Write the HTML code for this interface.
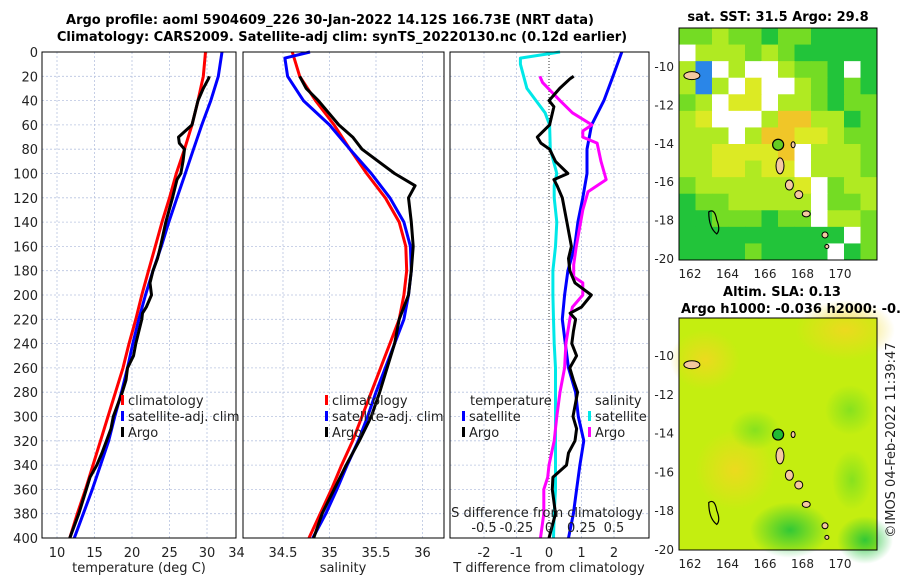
<!DOCTYPE html>
<html><head><meta charset="utf-8"><style>
body{margin:0;background:#fff;}
svg{font-family:"DejaVu Sans","Liberation Sans",sans-serif;}
</style></head><body>
<svg id="fig" width="900" height="580" xmlns="http://www.w3.org/2000/svg"></svg>
<script>
// ---------- data ----------
const depths = [0,20,40,60,80,100,120,140,160,180,200,220,240,260,280,300,320,340,360,380,400];
const climT = [29.8,29.5,28.8,28.0,27.0,25.9,25.0,24.0,23.1,22.2,21.3,20.5,19.6,18.8,17.8,16.8,15.8,14.8,13.8,12.7,11.7];
const satT  = [32.0,31.5,30.5,29.3,28.2,27.1,26.0,24.9,23.9,22.8,21.8,20.9,20.1,19.4,18.6,17.7,16.9,15.8,14.7,13.5,12.3];
const argoDepths = [20,22,30,40,45,60,70,75,80,90,100,105,110,120,140,160,170,180,190,200,210,215,220,230,240,250,260,270,280,300,310,320,330,340,350,360,380,400];
const argoT = [30.3,30.2,29.5,28.8,28.6,28.0,26.2,26.3,27.0,26.8,26.5,26.0,25.8,25.4,24.5,23.8,23.4,22.8,22.4,22.6,21.9,21.4,21.3,20.9,20.5,20.2,19.4,19.2,18.7,17.5,17.2,16.6,16.0,15.3,14.4,13.9,12.9,11.7];
const climS = [34.60,34.68,34.85,35.05,35.22,35.40,35.60,35.75,35.82,35.83,35.80,35.75,35.65,35.55,35.45,35.35,35.25,35.13,35.02,34.90,34.78];
const satDepths = [0,5,20,40,60,80,100,120,140,160,180,200,220,240,260,280,300,320,340,360,380,400];
const satS = [34.79,34.52,34.55,34.72,35.00,35.22,35.45,35.65,35.80,35.87,35.88,35.85,35.80,35.70,35.60,35.50,35.41,35.31,35.19,35.08,34.96,34.82];
const argoSDepths = [20,30,40,60,70,80,100,110,120,140,160,180,200,220,240,260,280,300,320,340,360,380,400];
const argoS = [34.68,34.75,34.88,35.10,35.25,35.35,35.70,35.92,35.85,35.88,35.90,35.88,35.85,35.75,35.70,35.62,35.54,35.45,35.32,35.18,35.05,34.92,34.83];
const satTdiff = [2.24,1.97,1.69,1.31,1.17,1.17,1.04,0.89,0.79,0.58,0.48,0.41,0.5,0.6,0.82,0.9,1.07,0.95,0.85,0.75,0.6];
const argoTdiff = [0.76,0.65,0.33,0.0,0.15,0.02,-0.36,-0.25,0.02,0.2,0.58,0.15,0.25,0.41,0.55,0.69,0.6,0.64,0.8,1.3,1.0,0.65,0.82,0.75,0.7,0.85,0.64,0.75,0.88,0.74,0.85,0.8,0.6,0.54,0.12,0.1,0.2,0.0];
const satSdiffDepths = [0,5,10,30,40,50,60,80,100,110,120,140,160,180,200,220,240,260,300,320,360,380,400];
const satSdiff = [0.085,-0.22,-0.22,-0.17,-0.1,-0.03,0.005,0.01,0.06,0.04,0.04,0.06,0.05,0.03,0.03,0.035,0.04,0.05,0.05,0.05,0.05,0.04,0.035];
const argoSdiffDepths = [20,25,40,50,60,65,70,75,90,105,115,130,160,175,185,190,200,210,220,240,260,280,300,320,340,350,360,380,400];
const argoSdiff = [-0.07,-0.05,0.085,0.18,0.33,0.26,0.26,0.37,0.4,0.44,0.3,0.26,0.21,0.19,0.19,0.26,0.26,0.18,0.16,0.13,0.12,0.085,0.06,0.04,0.0,-0.01,-0.04,-0.04,-0.065];
const depthTicks = [0,20,40,60,80,100,120,140,160,180,200,220,240,260,280,300,320,340,360,380,400];
const tTicks = [10,15,20,25,30];
const tTickLabels = ["10","15","20","25","30"];
const sTicks = [34,34.5,35,35.5,36];
const dTicks = [-2,-1,0,1,2];
const sdTicks = [-0.5,-0.25,0,0.25,0.5];
const sdTickLabels = ["-0.5","-0.25","0","0.25","0.5"];
const lonTicks = [162,164,166,168,170];
const latTicks = [-10,-12,-14,-16,-18,-20];
const sstGrid = [
"mmlmmgmmgggg","wlllmlmggggg","lbwlwwlmmgwg","lblwywwlmgmg","mlwyywllmgmm","lywwwloollgm",
"lllwlooyylmm","llyyyyowlllm","llyylyywlllm","mllllllywmll","gmmlllllwmml","ggmmmgmmwllm",
"ggggggggggwm","ggggmggggwgm"];
const argoLon = 166.7, argoLat = -14.1;

// ---------- helpers ----------
const NS="http://www.w3.org/2000/svg", svg=document.getElementById('fig');
function el(tag, attrs, parent){const e=document.createElementNS(NS,tag);for(const k in attrs)e.setAttribute(k,attrs[k]);(parent||svg).appendChild(e);return e;}
function txt(x,y,s,attrs){const e=el('text',Object.assign({x:x,y:y,'font-size':13,fill:'#222'},attrs||{}));e.textContent=s;return e;}
const Y0=52, Y1=538;
const yD = d => Y0 + d/400*(Y1-Y0);
const xT = v => 42 + (v-8)*7.5;
const xS = v => 243 + (v-34.07)*93;
const xDT = v => 549 + v*32.5;
const xDS = v => 549 + v*130;

function panel(x0,x1,name){
  const g=el('g',{});
  
  
  depthTicks.forEach(d=>{ if(d>0&&d<400){el('line',{x1:x0,x2:x1,y1:yD(d),y2:yD(d),stroke:'#b8c4e0','stroke-width':0.8,'stroke-dasharray':'2,2'},g);} });
  return g;
}
function vgrid(g,xs,x0,x1){xs.forEach(x=>{if(x>x0+1&&x<x1-1)el('line',{x1:x,x2:x,y1:Y0,y2:Y1,stroke:'#b8c4e0','stroke-width':0.8,'stroke-dasharray':'2,2'},g);});}
function frame(g,x0,x1){el('rect',{x:x0,y:Y0,width:x1-x0,height:Y1-Y0,fill:'none',stroke:'#000','stroke-width':1},g);}
function line(g,xs,ds,color,name,w){
  const pts=xs.map((v,i)=>v.toFixed(1)+','+yD(ds[i]).toFixed(1)).join(' ');
  const p=el('polyline',{points:pts,fill:'none',stroke:color,'stroke-width':w||3,'stroke-linejoin':'round'},g);
  
  
}
function legend(g,x,y,color,label){
  el('rect',{x:x,y:y-10,width:3,height:10,fill:color},g);
  txt(x+7,y,label,{'font-size':13});
}

// titles
const t1=txt(330,24,"Argo profile: aoml 5904609_226 30-Jan-2022 14.12S 166.73E (NRT data)",{'font-weight':'bold','text-anchor':'middle','font-size':13,fill:'#000'});


const t2=txt(342,41,"Climatology: CARS2009. Satellite-adj clim: synTS_20220130.nc (0.12d earlier)",{'font-weight':'bold','text-anchor':'middle','font-size':13,fill:'#000'});



// panel 1
const p1=panel(42,236,'temperature-panel');
vgrid(p1,tTicks.map(xT),42,236);
line(p1,climT.map(xT),depths,'#ff0000','climatology-temperature-line');
line(p1,satT.map(xT),depths,'#0000ff','satellite-temperature-line');
line(p1,argoT.map(xT),argoDepths,'#000000','argo-temperature-line');
frame(p1,42,236);
depthTicks.forEach(d=>txt(38,yD(d)+5,String(d),{'text-anchor':'end'}));
tTicks.forEach((v,i)=>txt(xT(v),557,tTickLabels[i],{'text-anchor':'middle'}));
txt(139,572,"temperature (deg C)",{'text-anchor':'middle'});
legend(p1,121,405,'#ff0000','climatology');
legend(p1,121,421,'#0000ff','satellite-adj. clim');
legend(p1,121,437,'#000000','Argo');

// panel 2
const p2=panel(243,444,'salinity-panel');
vgrid(p2,sTicks.map(xS),243,444);
line(p2,climS.map(xS),depths,'#ff0000','climatology-salinity-line');
line(p2,satS.map(xS),satDepths,'#0000ff','satellite-salinity-line');
line(p2,argoS.map(xS),argoSDepths,'#000000','argo-salinity-line');
frame(p2,243,444);
sTicks.forEach(v=>txt(xS(v),557,String(v),{'text-anchor':'middle'}));
txt(343,572,"salinity",{'text-anchor':'middle'});
legend(p2,325,405,'#ff0000','climatology');
legend(p2,325,421,'#0000ff','satellite-adj. clim');
legend(p2,325,437,'#000000','Argo');

// panel 3
const p3=panel(450,649,'difference-panel');
vgrid(p3,dTicks.filter(v=>v!==0).map(xDT),450,649);
el('line',{x1:xDT(0),x2:xDT(0),y1:Y0,y2:Y1,stroke:'#333','stroke-width':1,'stroke-dasharray':'1,2'},p3);
line(p3,satTdiff.map(xDT),depths,'#0000ff','satellite-temperature-diff-line');
line(p3,satSdiff.map(xDS),satSdiffDepths,'#00e8e8','satellite-salinity-diff-line');
line(p3,argoSdiff.map(xDS),argoSdiffDepths,'#ff00ff','argo-salinity-diff-line');
line(p3,argoTdiff.map(xDT),argoDepths,'#000000','argo-temperature-diff-line');
frame(p3,450,649);
dTicks.forEach(v=>txt(xDT(v),557,String(v),{'text-anchor':'middle'}));
txt(549,572,"T difference from climatology",{'text-anchor':'middle'});
txt(547,517,"S difference from climatology",{'text-anchor':'middle'});
sdTicks.forEach((v,i)=>txt(xDS(v),532,sdTickLabels[i],{'text-anchor':'middle'}));
txt(470,405,"temperature");
legend(p3,462,421,'#0000ff','satellite');
legend(p3,462,437,'#000000','Argo');
txt(595,405,"salinity");
legend(p3,588,421,'#00e8e8','satellite');
legend(p3,588,437,'#ff00ff','Argo');

// maps
const MX0=679, MX1=877;
const lonX = lo => 690 + (lo-162)*18.75;
const cmap={g:'#22c43a',m:'#74dc24',l:'#b0ea22',y:'#dcea24',o:'#f0c628',w:'#ffffff',b:'#2a86e8'};
function islands(g,latY){
  const isl=[[166.8,-15.2,4,8],[167.3,-16.2,4,5],[167.8,-16.7,4,4],[168.2,-17.7,4,3],[169.2,-18.8,3,3],[169.3,-19.4,2,2],[162.1,-10.5,8,4],[167.5,-14.1,2,3]];
  isl.forEach(a=>el('ellipse',{cx:lonX(a[0]),cy:latY(a[1]),rx:a[2],ry:a[3],fill:'#f4c8a0',stroke:'#000','stroke-width':1},g));
  el('path',{d:`M${lonX(163)} ${latY(-17.6)} q6 -4 8 8 q4 10 0 14 q-8 -6 -8 -22z`,fill:'none',stroke:'#000','stroke-width':1.2},g);
}
function mapAxes(g,top,bot,latY){
  el('rect',{x:MX0,y:top,width:MX1-MX0,height:bot-top,fill:'none',stroke:'#000','stroke-width':1},g);
  lonTicks.forEach(v=>txt(lonX(v),bot+18,String(v),{'text-anchor':'middle','font-size':12}));
  latTicks.forEach(v=>txt(MX0-5,latY(v)+5,String(v),{'text-anchor':'end','font-size':12}));
}
// SST map
const m1=el('g',{});


const lat1 = la => 66 + (-10-la)*19.2;
const rows=sstGrid.length, cw=(MX1-MX0)/12, ch=(260-28)/rows;
sstGrid.forEach((r,ri)=>{for(let ci=0;ci<12;ci++){el('rect',{x:MX0+ci*cw,y:28+ri*ch,width:cw+0.5,height:ch+0.5,fill:cmap[r[ci]]||cmap.m},m1);}});
islands(m1,lat1);
el('circle',{cx:lonX(argoLon),cy:lat1(argoLat),r:5.5,fill:'#66cc22',stroke:'#000','stroke-width':1.2},m1);
mapAxes(m1,28,260,lat1);
txt(778,21,"sat. SST: 31.5 Argo: 29.8",{'text-anchor':'middle','font-weight':'bold','font-size':13,fill:'#000'});

// SLA map
const m2=el('g',{});


const lat2 = la => 355 + (-10-la)*19.4;
const defs=el('defs',{});
function rg(id,c){const r=el('radialGradient',{id:id},defs);el('stop',{offset:'0','stop-color':c,'stop-opacity':0.9},r);el('stop',{offset:'1','stop-color':c,'stop-opacity':0},r);}
rg('gy','#f0d820');rg('gg','#22c43a');rg('gm','#80e020');
el('rect',{x:MX0,y:318,width:MX1-MX0,height:232,fill:'#c4ee10'},m2);
el('ellipse',{cx:735,cy:470,rx:40,ry:40,fill:'url(#gy)'},m2);
el('ellipse',{cx:845,cy:330,rx:50,ry:30,fill:'url(#gy)'},m2);
el('ellipse',{cx:705,cy:360,rx:35,ry:30,fill:'url(#gy)'},m2);
el('ellipse',{cx:790,cy:530,rx:40,ry:28,fill:'url(#gg)'},m2);
el('ellipse',{cx:865,cy:540,rx:28,ry:24,fill:'url(#gg)'},m2);
el('ellipse',{cx:852,cy:480,rx:20,ry:30,fill:'url(#gm)'},m2);
el('ellipse',{cx:850,cy:410,rx:25,ry:25,fill:'url(#gm)'},m2);
el('ellipse',{cx:755,cy:430,rx:25,ry:20,fill:'url(#gm)'},m2);
islands(m2,lat2);
el('circle',{cx:lonX(argoLon),cy:lat2(argoLat),r:5.5,fill:'#22bb33',stroke:'#000','stroke-width':1.2},m2);
mapAxes(m2,318,550,lat2);
txt(782,296,"Altim. SLA: 0.13",{'text-anchor':'middle','font-weight':'bold','font-size':13,fill:'#000'});
txt(681,313,"Argo h1000: -0.036 h2000: -0.039",{'font-weight':'bold','font-size':13,fill:'#000'});
const st=txt(0,0,"©IMOS 04-Feb-2022 11:39:47",{'text-anchor':'middle','font-size':13,transform:'translate(895,440) rotate(-90)'});


</script>
</body></html>
